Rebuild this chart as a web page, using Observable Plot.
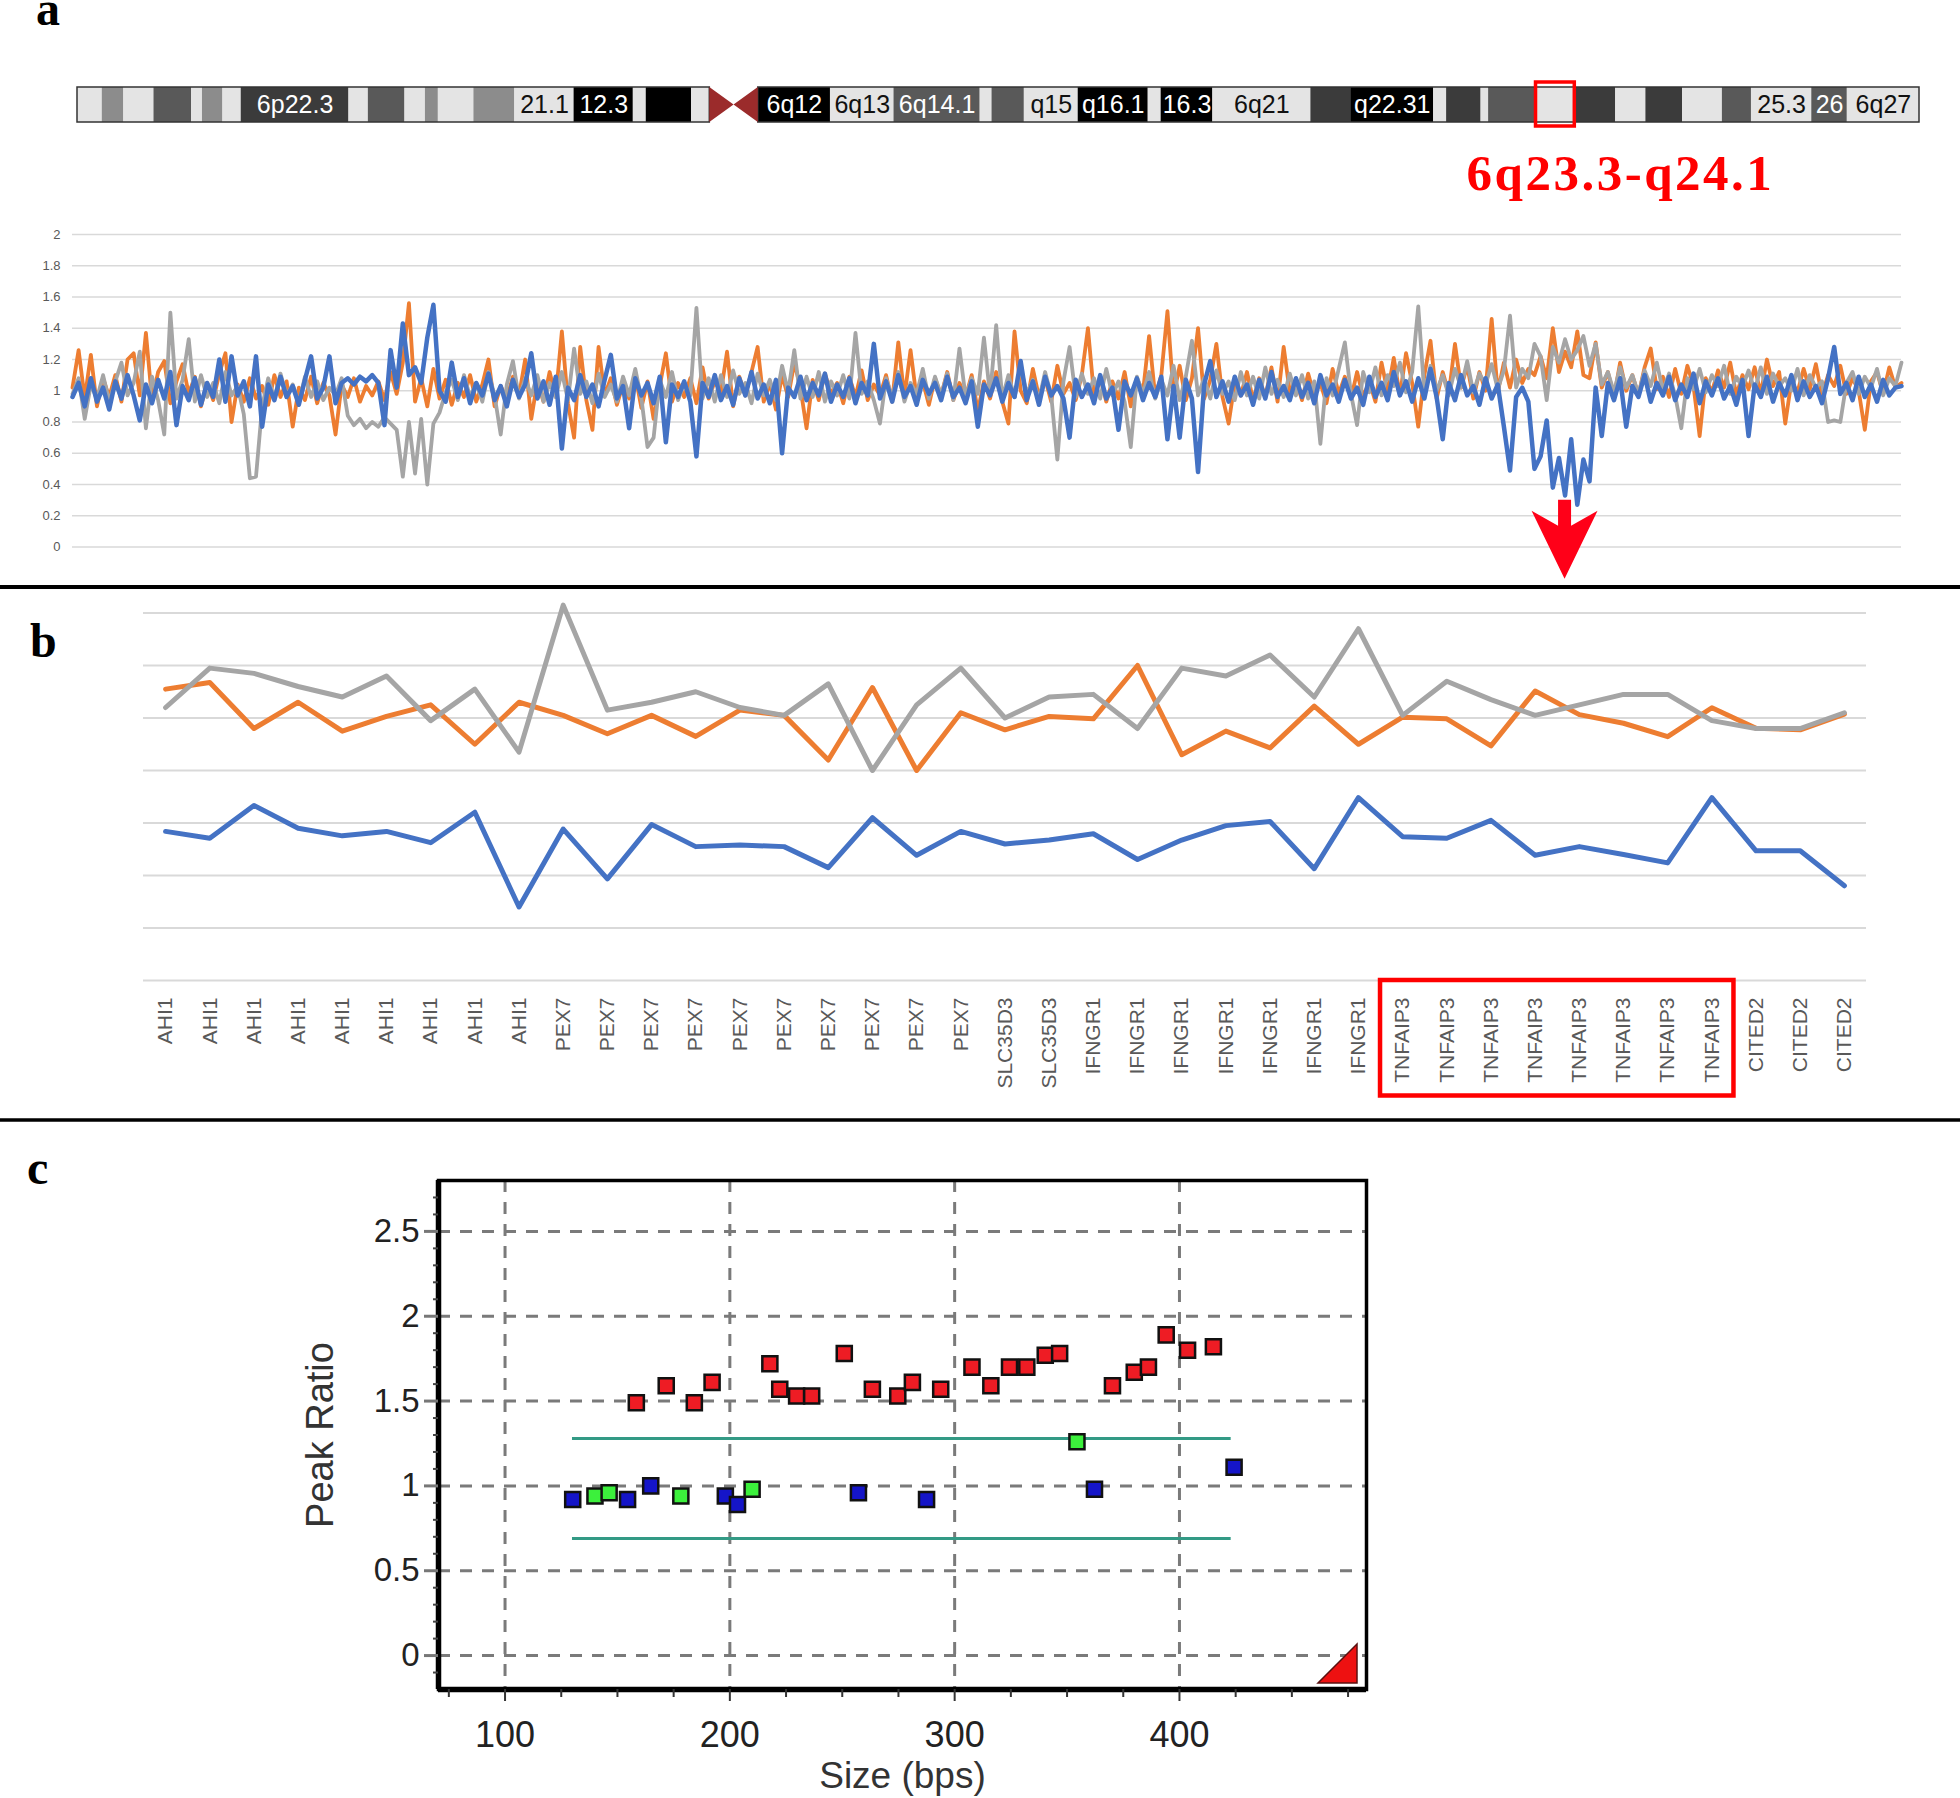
<!DOCTYPE html>
<html><head><meta charset="utf-8">
<script src="https://cdn.jsdelivr.net/npm/d3@7"></script>
<script src="https://cdn.jsdelivr.net/npm/@observablehq/plot@0.6"></script>
<style>
body{margin:0;background:#fff;}
#page{position:relative;width:1960px;height:1798px;overflow:hidden;background:#fff;}
</style></head><body><div id="page"></div>
<script>
// ================= DATA =================
// Chromosome 6 ideogram (approx. Mb positions)
const chrLength = 171;
const bandStart = [0,2.3,4.3,7.1,10.6,11.6,13.5,15.2,25.2,27.0,30.4,32.3,33.5,36.8,40.6,46.1,51.6,52.8,57.0,58.7,63.2,69.9,75.8,83.8,84.9,87.9,92.9,99.4,100.6,105.4,114.5,118.2,125.9,127.1,130.3,131.0,135.4,139.0,142.8,145.6,149.0,152.7,155.4,161.0,164.3];
const bandEnd   = [2.3,4.3,7.1,10.6,11.6,13.5,15.2,25.2,27.0,30.4,32.3,33.5,36.8,40.6,46.1,51.6,52.8,57.0,58.7,63.2,69.9,75.8,83.8,84.9,87.9,92.9,99.4,100.6,105.4,114.5,118.2,125.9,127.1,130.3,131.0,135.4,139.0,142.8,145.6,149.0,152.7,155.4,161.0,164.3,171.0];
const bandStain = ["light","mid","light","dark","light","mid","light","darker","light","dark","light","mid","light","mid","light","black","light","black","light","cen","black","light","dark","light","dark","light","black","light","black","light","darker","black","light","darker","light","dark","light","darker","light","darker","light","dark","light","dark","light"];
const bandLabel = ["","","","","","","","6p22.3","","","","","","","21.1","12.3","","","","","6q12","6q13","6q14.1","","","q15","q16.1","","16.3","6q21","","q22.31","","","","","","","","","","","25.3","26","6q27"];
const highlightRange = [135.4, 139.0];
const highlightLabel = "6q23.3-q24.1";

// Panel a: copy-number ratio along chr6 (three samples)
const aTicks = [0,0.2,0.4,0.6,0.8,1,1.2,1.4,1.6,1.8,2];
const aOrange = [
1.02,1.26,0.95,1.23,0.90,1.08,0.96,1.10,0.93,1.20,1.24,0.97,1.37,0.94,1.12,1.19,0.92,1.06,1.17,0.98,1.09,0.90,1.05,0.94,1.11,
1.24,0.80,1.04,0.93,1.08,0.95,1.03,0.91,1.10,0.96,1.06,0.77,1.02,0.94,1.09,0.92,1.05,0.97,0.72,1.04,0.96,1.08,0.93,1.03,0.97,
1.06,0.94,1.12,0.98,1.18,1.56,0.93,1.08,0.90,1.14,0.95,1.07,0.91,1.05,0.96,1.10,0.93,1.04,1.20,0.90,1.03,0.95,1.09,0.97,1.20,
0.82,1.06,0.93,1.12,0.96,1.38,0.92,0.70,1.28,0.94,0.75,1.28,0.97,1.08,0.91,1.04,0.95,1.10,0.89,1.06,0.82,1.03,1.24,0.93,1.05,
0.96,1.08,0.92,1.15,0.95,1.06,0.99,1.25,0.90,1.09,0.97,1.12,1.28,0.93,1.05,0.88,1.10,0.96,1.18,1.02,0.76,1.07,0.94,1.11,0.98,
1.05,0.92,1.09,0.96,1.13,0.94,1.04,0.97,1.10,0.93,1.31,0.96,1.26,0.95,1.06,0.91,1.08,0.97,1.12,0.94,1.05,0.96,1.10,0.87,1.06,
0.95,1.12,0.93,0.79,1.38,1.00,0.92,1.14,0.96,1.08,0.93,1.16,0.98,1.05,0.94,1.10,1.40,0.97,1.09,0.93,1.06,0.95,1.12,0.90,1.08,
0.99,1.35,0.96,1.10,1.51,0.97,1.16,0.94,1.08,1.40,0.95,1.07,1.30,0.96,0.79,1.05,0.97,1.12,0.94,1.08,0.96,1.15,0.93,1.28,0.99,
1.07,0.94,1.11,0.97,1.05,0.92,1.14,0.98,1.09,0.95,1.12,0.96,1.06,0.93,1.18,0.99,1.21,0.97,1.24,1.05,0.77,1.10,1.32,0.95,1.12,
0.98,1.30,1.02,1.16,0.95,1.12,1.00,1.46,0.99,1.18,1.02,1.20,1.05,1.14,1.10,1.22,1.08,1.40,1.12,1.25,1.15,1.38,1.10,1.08,1.31,
1.02,1.12,0.96,1.18,1.00,1.10,0.97,1.15,1.27,1.01,1.09,0.96,1.14,0.98,1.16,1.03,0.71,1.08,0.99,1.13,1.02,1.18,0.97,1.10,1.01,
1.15,0.98,1.20,1.03,1.12,0.79,1.06,0.99,1.14,1.01,1.17,0.97,1.10,1.03,1.16,0.98,1.08,1.00,0.75,1.06,1.12,0.98,1.15,1.02,1.05];
const aGray = [
0.98,1.08,0.82,1.04,0.95,1.10,0.93,1.06,1.18,0.97,1.05,1.25,0.76,1.09,0.94,0.72,1.50,0.95,1.07,1.33,0.93,1.10,0.96,1.05,0.92,
1.12,0.97,1.03,0.85,0.44,0.45,0.90,1.08,0.95,1.11,0.97,1.04,0.92,1.09,0.96,1.06,0.94,1.02,0.97,1.08,0.84,0.78,0.82,0.76,0.80,
0.77,0.83,0.79,0.75,0.45,0.80,0.47,0.82,0.40,0.79,0.86,0.99,1.07,0.94,1.10,0.96,1.05,0.93,1.12,0.97,0.72,1.04,1.19,0.95,1.08,
0.97,1.10,0.93,1.05,0.96,1.12,0.94,1.27,0.98,1.06,0.92,1.11,0.96,1.04,0.93,1.09,0.97,1.14,0.95,0.64,0.70,1.07,0.96,1.12,0.94,
1.05,0.97,1.53,0.95,1.08,0.93,1.10,0.96,1.13,0.98,1.05,0.92,1.11,0.97,1.07,0.94,1.16,0.99,1.26,0.95,1.09,0.96,1.12,0.93,1.06,
0.97,1.10,0.95,1.37,0.98,1.06,0.94,0.79,1.08,0.96,1.12,0.93,1.05,0.98,1.14,0.95,1.09,0.97,1.11,0.94,1.27,0.96,1.08,0.98,1.34,
0.97,1.42,0.95,1.10,0.96,1.15,0.98,1.07,0.94,1.12,0.97,0.56,1.06,1.28,0.96,1.11,0.98,1.08,0.95,1.14,0.97,1.06,0.93,0.64,1.09,
0.98,1.12,0.95,1.07,0.97,1.16,0.94,1.09,1.32,0.97,1.08,0.95,1.13,0.98,1.06,0.94,1.12,0.97,1.09,0.95,1.15,0.98,1.07,0.96,1.11,
0.97,1.10,0.95,1.06,0.66,1.08,0.97,1.14,1.31,0.98,0.78,1.12,0.99,1.15,0.97,1.10,1.03,1.18,0.99,1.12,1.54,0.98,1.16,1.00,1.10,
0.97,1.14,1.02,1.19,0.99,1.11,1.04,1.17,1.01,1.13,1.48,1.02,1.14,1.08,1.30,1.22,0.94,1.28,1.18,1.33,1.20,1.26,1.35,1.16,1.30,
1.04,1.12,0.99,1.15,1.02,1.10,0.98,1.13,1.03,1.18,1.00,1.11,0.97,0.76,1.08,1.01,1.14,0.99,1.10,1.03,1.16,0.98,1.09,1.02,1.13,
1.00,1.15,0.98,1.11,1.03,1.08,1.00,1.14,0.97,1.10,1.02,1.06,0.80,0.81,0.80,1.05,1.12,0.98,1.09,1.02,1.14,0.97,1.08,1.03,1.18];
const aBlue = [
0.96,1.05,0.90,1.08,0.93,1.02,0.88,1.06,0.95,1.10,0.97,0.81,1.04,0.92,1.07,0.95,1.12,0.78,1.03,0.94,1.08,0.91,1.05,0.96,1.20,
0.93,1.22,0.97,1.06,0.90,1.22,0.77,1.04,0.94,1.09,0.96,1.03,0.91,1.07,1.22,0.95,1.02,1.22,0.92,1.05,1.08,1.04,1.09,1.06,1.10,
1.05,0.78,1.26,1.02,1.43,1.10,1.15,1.05,1.34,1.55,1.00,0.93,1.18,0.96,1.08,0.92,1.05,0.97,1.11,0.94,1.03,0.90,1.07,0.96,1.04,
1.24,0.95,1.06,0.91,1.09,0.63,1.02,0.94,1.10,0.96,1.04,0.90,1.07,1.23,0.95,1.03,0.76,1.08,0.97,1.05,0.92,1.09,0.67,1.04,0.96,
1.06,0.93,0.58,1.05,0.96,1.10,0.94,1.03,0.91,1.08,0.97,1.12,0.95,1.04,0.92,1.07,0.60,1.02,0.96,1.09,0.94,1.05,0.97,1.11,0.93,
1.04,0.96,1.08,0.92,1.05,0.97,1.30,0.95,1.06,0.93,1.10,0.96,1.03,0.91,1.07,0.98,1.05,0.94,1.09,0.96,1.02,0.92,1.06,0.77,1.04,
0.97,1.08,0.93,1.05,0.96,1.19,0.94,1.06,0.91,1.09,0.97,1.03,0.95,0.70,1.07,0.96,1.04,0.92,1.10,0.95,1.02,0.75,1.06,0.97,1.08,
0.94,1.05,0.96,1.09,0.69,1.03,0.70,1.07,0.95,0.48,1.04,1.19,0.96,1.06,0.93,1.09,0.97,1.04,0.91,1.07,0.95,1.12,0.96,1.03,0.94,
1.08,0.96,1.05,0.92,1.10,0.97,1.04,0.93,1.07,0.95,1.02,0.91,1.09,0.96,1.05,0.94,1.12,0.97,1.06,0.93,1.08,0.95,1.14,0.96,0.69,
1.05,0.94,1.10,0.97,1.03,0.91,1.08,0.95,1.04,0.77,0.49,0.96,1.02,0.93,0.50,0.58,0.81,0.38,0.57,0.33,0.69,0.27,0.56,0.42,1.02,
0.71,1.05,0.94,1.08,0.77,1.03,0.96,1.10,0.93,1.05,0.97,1.09,0.94,1.04,0.96,1.11,0.92,1.06,0.97,1.08,0.95,1.03,0.91,1.07,0.71,
1.04,0.96,1.09,0.93,1.05,0.97,1.10,0.94,1.06,0.96,1.03,0.92,1.08,1.28,0.98,1.05,0.94,1.09,0.96,1.04,0.93,1.07,0.97,1.02,1.03];
const aDeletion = [240, 248]; // index range of the blue drop (arrow target)

// Panel b: probe ratios per gene
const bGenes = ["AHI1","AHI1","AHI1","AHI1","AHI1","AHI1","AHI1","AHI1","AHI1",
  "PEX7","PEX7","PEX7","PEX7","PEX7","PEX7","PEX7","PEX7","PEX7","PEX7",
  "SLC35D3","SLC35D3",
  "IFNGR1","IFNGR1","IFNGR1","IFNGR1","IFNGR1","IFNGR1","IFNGR1",
  "TNFAIP3","TNFAIP3","TNFAIP3","TNFAIP3","TNFAIP3","TNFAIP3","TNFAIP3","TNFAIP3",
  "CITED2","CITED2","CITED2"];
const bOrange = [1.11,1.135,0.96,1.06,0.95,1.006,1.05,0.90,1.06,1.01,0.94,1.01,0.93,1.03,1.01,0.84,1.116,0.80,1.02,
  0.955,1.006,0.997,1.20,0.86,0.95,0.886,1.045,0.90,1.003,0.997,0.894,1.103,1.013,0.98,0.929,1.039,0.961,0.955,1.015];
const bGray = [1.04,1.19,1.17,1.12,1.08,1.16,0.99,1.11,0.87,1.43,1.03,1.06,1.10,1.04,1.01,1.13,0.80,1.05,1.19,
  1.00,1.08,1.09,0.96,1.19,1.16,1.24,1.08,1.34,1.01,1.14,1.07,1.01,1.05,1.09,1.09,0.99,0.96,0.96,1.02];
const bBlue = [0.568,0.542,0.667,0.58,0.551,0.568,0.525,0.641,0.28,0.577,0.387,0.594,0.51,0.516,0.51,0.43,0.62,0.477,0.568,
  0.52,0.535,0.559,0.461,0.535,0.59,0.606,0.426,0.697,0.548,0.542,0.61,0.477,0.51,0.48,0.448,0.697,0.494,0.494,0.361];
const bGrid = [0,0.2,0.4,0.6,0.8,1,1.2,1.4];
const bHighlightGene = "TNFAIP3";

// Panel c: MLPA peak ratios
const cRedSize  = [158.4,171.7,184.2,192.1,217.8,222.2,229.7,236.4,250.9,263.4,274.7,281.2,293.8,307.7,316.1,324.4,332.1,340.3,346.7,370.2,379.9,386.2,394.1,403.6,415.1];
const cRedRatio = [1.49,1.59,1.49,1.61,1.72,1.57,1.53,1.53,1.78,1.57,1.53,1.61,1.57,1.70,1.59,1.70,1.70,1.77,1.78,1.59,1.67,1.70,1.89,1.80,1.82];
const cGreenSize  = [140.0,146.3,178.2,209.9,354.4];
const cGreenRatio = [0.94,0.96,0.94,0.98,1.26];
const cBlueSize  = [130.1,154.5,164.8,198.0,203.4,257.2,287.5,362.2,424.3];
const cBlueRatio = [0.92,0.92,1.00,0.94,0.89,0.96,0.92,0.98,1.11];
const cThresholds = [1.28, 0.69];
const cThresholdSpan = [130, 423];
const cXDomain = [70.4, 483.2];
const cYDomain = [-0.2, 2.8];
const cXTicks = [100,200,300,400];
const cXMinor = [75,125,150,175,225,250,275,325,350,375,425,450,475];
const cYTicks = [0,0.5,1,1.5,2,2.5];
const cYMinor = [-0.1,0.1,0.2,0.3,0.4,0.6,0.7,0.8,0.9,1.1,1.2,1.3,1.4,1.6,1.7,1.8,1.9,2.1,2.2,2.3,2.4,2.6,2.7];

// ================= STYLE =================
const C = {orange:"#ed7d31", gray:"#a5a5a5", blue:"#4472c4"};
const stainColor = {light:"#e4e4e4", mid:"#8c8c8c", dark:"#595959", darker:"#3b3b3b", black:"#000000", cen:"#9b2b2b"};
const SANS = "Liberation Sans, Arial, sans-serif";
const SERIF = "Liberation Serif, Times New Roman, serif";
const plain = d => `${d}`;
const page = document.getElementById("page");
const st = top => ({position:"absolute", left:"0px", top: top + "px", background:"transparent", fontFamily:SANS, overflow:"visible", maxWidth:"none"});

// ================= IDEOGRAM =================
const bands = bandStart.map((s,i)=>({start:s, end:bandEnd[i], stain:bandStain[i], label:bandLabel[i]}));
const cen = bands.find(d=>d.stain==="cen");
const cenShape = [{x:cen.start,y1:0,y2:1},{x:(cen.start+cen.end)/2,y1:0.5,y2:0.5},{x:cen.end,y1:0,y2:1}];
const arms = [{start:0,end:cen.start},{start:cen.end,end:chrLength}];
const hl = [{start:highlightRange[0], end:highlightRange[1], label:highlightLabel}];
const ideo = Plot.plot({
  width:1960, height:210, marginLeft:77, marginRight:41, marginTop:87, marginBottom:88,
  style: st(0),
  x:{domain:[0,chrLength], axis:null}, y:{domain:[0,1], axis:null},
  marks:[
    Plot.rect(bands.filter(d=>d.stain!=="cen"), {x1:"start", x2:"end", y1:0, y2:1, fill:d=>stainColor[d.stain]}),
    Plot.rect(arms, {x1:"start", x2:"end", y1:0, y2:1, fill:"none", stroke:"#333", strokeWidth:1.5}),
    Plot.areaY(cenShape, {x:"x", y1:"y1", y2:"y2", fill:stainColor.cen}),
    Plot.text(bands.filter(d=>d.label), {x:d=>(d.start+d.end)/2, y:0.5, text:"label", fontSize:25, fontFamily:SANS,
      fill:d=> d.stain==="light" ? "#111" : "#fff"}),
    Plot.rect(hl, {x1:"start", x2:"end", y1:0, y2:1, insetTop:-5, insetBottom:-4, fill:"none", stroke:"#ff0000", strokeWidth:3.5}),
    Plot.text(hl, {x:d=>(d.start+d.end)/2, y:0, text:"label", dx:65, dy:67, lineAnchor:"bottom",
      fontSize:51, fontWeight:"bold", fontFamily:SERIF, fill:"#ff0000"})
  ]
});
d3.select(ideo).selectAll("text").filter(function(){return this.textContent===highlightLabel;}).attr("letter-spacing","2.5px");
page.appendChild(ideo);

// ================= PANEL A =================
const lineOpts = (stroke, w) => ({x:(d,i)=>i, y:d=>d, stroke, strokeWidth:w, strokeLinejoin:"round"});
const plotA = Plot.plot({
  width:1960, height:390, marginTop:34, marginBottom:43.5, marginLeft:72, marginRight:59,
  style: st(200),
  x:{domain:[0, aOrange.length-1], axis:null},
  y:{domain:[0,2]},
  marks:[
    Plot.gridY({ticks:aTicks, stroke:"#d9d9d9", strokeOpacity:1, strokeWidth:1.5}),
    Plot.axisY({ticks:aTicks, tickFormat:plain, tickSize:0, tickPadding:12, fontSize:13, fill:"#595959", label:null}),
    Plot.line(aOrange, lineOpts(C.orange, 3.8)),
    Plot.line(aGray, lineOpts(C.gray, 3.8)),
    Plot.line(aBlue, lineOpts(C.blue, 4.5))
  ]
});
{
  const xs = plotA.scale("x"), ys = plotA.scale("y");
  const fx = d3.scaleLinear(xs.domain, xs.range), fy = d3.scaleLinear(ys.domain, ys.range);
  const cx = fx((aDeletion[0]+aDeletion[1])/2), top = fy(0.3);
  const p = d3.path();
  p.moveTo(cx-6.5, top); p.lineTo(cx+6.5, top); p.lineTo(cx+6.5, top+26); p.lineTo(cx+33, top+11);
  p.lineTo(cx, top+79); p.lineTo(cx-33, top+11); p.lineTo(cx-6.5, top+26); p.closePath();
  d3.select(plotA).append("path").attr("d", p.toString()).attr("fill", "#ff0018");
}
page.appendChild(plotA);

// ================= PANEL B =================
const bIdx = bGenes.map((_,i)=>i);
const hiFirst = bGenes.indexOf(bHighlightGene), hiLast = bGenes.lastIndexOf(bHighlightGene);
const plotB = Plot.plot({
  width:1960, height:520, marginTop:22.5, marginBottom:130, marginLeft:143, marginRight:94,
  style: st(590),
  x:{domain:[-0.5, bGenes.length-0.5]},
  y:{domain:[0,1.4], axis:null},
  marks:[
    Plot.gridY({ticks:bGrid, stroke:"#d9d9d9", strokeOpacity:1, strokeWidth:2}),
    Plot.axisX({ticks:bIdx, tickFormat:i=>bGenes[i], tickRotate:-90, tickSize:0, tickPadding:17, fontSize:21, fill:"#595959", label:null}),
    Plot.line(bOrange, lineOpts(C.orange, 5)),
    Plot.line(bGray, lineOpts(C.gray, 5)),
    Plot.line(bBlue, lineOpts(C.blue, 5)),
    Plot.rect([{a:hiFirst-0.5, b:hiLast+0.5}], {x1:"a", x2:"b", y1:0, y2:-0.44, fill:"none", stroke:"#ff0000", strokeWidth:4.5})
  ]
});
page.appendChild(plotB);

// ================= PANEL C =================
const cRows = [
  ...cBlueSize.map((s,i)=>({size:s, ratio:cBlueRatio[i], col:"#1515c8"})),
  ...cGreenSize.map((s,i)=>({size:s, ratio:cGreenRatio[i], col:"#3cf03c"})),
  ...cRedSize.map((s,i)=>({size:s, ratio:cRedRatio[i], col:"#ee1c24"}))
];
const dashed = {stroke:"#7a7a7a", strokeOpacity:1, strokeWidth:3, strokeDasharray:"12,10"};
const plotC = Plot.plot({
  width:1960, height:668, marginTop:50, marginBottom:109, marginLeft:438, marginRight:594,
  style: st(1130),
  x:{domain:cXDomain}, y:{domain:cYDomain},
  marks:[
    Plot.gridY({ticks:cYTicks, ...dashed}),
    Plot.gridX({ticks:cXTicks, ...dashed}),
    Plot.ruleY(cThresholds, {x1:()=>cThresholdSpan[0], x2:()=>cThresholdSpan[1], stroke:"#339a85", strokeWidth:3}),
    Plot.dot(cRows, {x:"size", y:"ratio", symbol:"square", r:8.5, fill:"col", stroke:"#111", strokeWidth:2.5}),
    Plot.frame({stroke:"#000", strokeWidth:3.5}),
    Plot.ruleX([cXDomain[0]], {stroke:"#000", strokeWidth:5.5}),
    Plot.ruleY([cYDomain[0]], {stroke:"#000", strokeWidth:5.5}),
    Plot.axisY({ticks:cYMinor, tickSize:5, tickFormat:()=>"", stroke:"#444", strokeWidth:2, label:null}),
    Plot.axisY({ticks:cYTicks, tickFormat:plain, tickSize:14, tickPadding:5, fontSize:33, stroke:"#777", strokeWidth:3, fill:"#222", label:null}),
    Plot.axisX({ticks:cXMinor, tickSize:8, tickFormat:()=>"", stroke:"#333", strokeWidth:2, label:null}),
    Plot.axisX({ticks:cXTicks, tickFormat:plain, tickSize:12, tickPadding:20, fontSize:36, stroke:"#333", strokeWidth:2, fill:"#222", label:null}),
    Plot.text(["Peak Ratio"], {frameAnchor:"left", text:d=>d, rotate:-90, textAnchor:"middle", dx:-118, fontSize:38, fill:"#333"}),
    Plot.text(["Size (bps)"], {frameAnchor:"bottom", text:d=>d, dy:98, lineAnchor:"bottom", fontSize:37, fill:"#333"})
  ]
});
{
  const xs = plotC.scale("x"), ys = plotC.scale("y");
  const R = d3.max(xs.range), B = d3.max(ys.range);
  const p = d3.path();
  p.moveTo(R-9, B-6); p.lineTo(R-9, B-45); p.lineTo(R-48, B-6); p.closePath();
  d3.select(plotC).append("path").attr("d", p.toString()).attr("fill", "#ee1111").attr("stroke", "#5a1010").attr("stroke-width", 1.5);
}
page.appendChild(plotC);

// ================= OVERLAY: panel letters & separators =================
const ov = d3.create("svg").attr("width",1960).attr("height",1798)
  .style("position","absolute").style("left","0px").style("top","0px");
[["a",36,25],["b",30,657],["c",27,1184]].forEach(([t,x,y])=>{
  ov.append("text").attr("x",x).attr("y",y).attr("font-family",SERIF).attr("font-weight","bold").attr("font-size",48).attr("fill","#000").text(t);
});
[[587,4],[1120,3.5]].forEach(([y,w])=>{
  ov.append("line").attr("x1",0).attr("x2",1960).attr("y1",y).attr("y2",y).attr("stroke","#000").attr("stroke-width",w);
});
page.appendChild(ov.node());
</script>
</body></html>
